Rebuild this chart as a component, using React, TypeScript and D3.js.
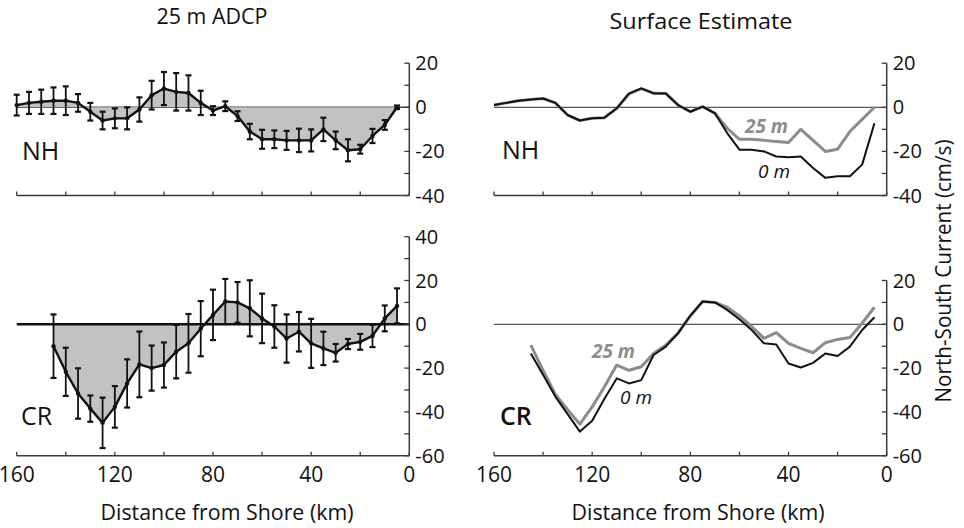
import React from "react";
import * as d3 from "d3";

// ---------- data ----------
const nhKm = [160, 155, 150, 145, 140, 135, 130, 125, 120, 115, 110, 105, 100, 95, 90, 85, 80, 75, 70, 65, 60, 55, 50, 45, 40, 35, 30, 25, 20, 15, 10, 5];
const nhAdcp = [1, 2, 2.5, 3, 3, 2, -2, -6, -5, -5, -1, 5.5, 8.5, 7, 6.5, 2, -1.5, 0.5, -4, -11, -14.5, -14.5, -15, -15, -15, -10, -15, -19.5, -19, -13, -8, 0];
const nhErr = [4.7, 5, 5.5, 6, 6.5, 4, 4, 4, 4.5, 5, 5.5, 6.5, 7.5, 8.5, 8, 5.5, 2, 2.2, 2.2, 3.5, 4.3, 4, 4.3, 5.3, 5, 5.3, 4, 5, 2, 3.2, 2.2, 0.8];
const nhSurf25 = [1, 2, 3, 3.5, 4, 2, -3.5, -6, -5, -4.7, -0.5, 6, 8.5, 6.5, 6.3, 1, -2, 0.3, -2.7, -9.5, -14.5, -14.5, -15, -15.5, -16, -10, -15, -20, -19, -11, -5.5, 0];
const nhSurf0 = [1, 2, 3, 3.5, 4, 2, -3.5, -6, -5, -4.7, -0.5, 6.3, 8.6, 6.3, 6.3, 1, -2, 0.3, -2.7, -11.7, -19.2, -19.2, -20, -22.3, -22.7, -22.3, -27.5, -32, -31.3, -31.3, -26, -7.2];

const crKm = [145, 140, 135, 130, 125, 120, 115, 110, 105, 100, 95, 90, 85, 80, 75, 70, 65, 60, 55, 50, 45, 40, 35, 30, 25, 20, 15, 10, 5];
const crAdcp = [-10, -21.7, -31.6, -38.5, -45, -37.7, -27, -18.3, -20, -18.6, -12.5, -8.7, -2, 4.3, 10.4, 10, 7.3, 2.7, -1, -6.5, -3.4, -8.7, -11, -13, -9, -8, -5.3, 2.7, 8.4];
const crErr = [14.5, 11, 11.5, 6, 11.5, 9.5, 11, 15, 10.3, 10.3, 12.2, 13.4, 12.6, 11.5, 10.3, 9.3, 12.8, 11.3, 9.7, 11, 9, 11.2, 7.6, 4, 2.3, 3.6, 5.1, 5.9, 8];
const crSurf25 = [-9.5, -21, -32, -39, -45.6, -37.7, -28.5, -18.6, -21, -19.4, -13.3, -9.5, -4, 3.8, 10.4, 10, 7.8, 3.8, -1, -6.4, -3.8, -8.7, -11, -13, -8.4, -6.9, -6, 0.5, 7.8];
const crSurf0 = [-13.3, -23, -33, -41, -49, -44, -34, -24.7, -27, -25.5, -14, -10.2, -4, 4, 10.4, 10, 6.6, 2.3, -2.6, -8.7, -9.2, -17.9, -19.7, -17.6, -13.3, -14.5, -10.2, -2.6, 3.2];

const xTicks = [160, 140, 120, 100, 80, 60, 40, 20, 0];
const xTickLabels = [160, 120, 80, 40, 0];
const topYTicks = [20, 10, 0, -10, -20, -30, -40];
const topYLabels = [20, 0, -20, -40];
const botLeftYTicks = [40, 30, 20, 10, 0, -10, -20, -30, -40, -50, -60];
const botLeftYLabels = [40, 20, 0, -20, -40, -60];
const botRightYTicks = [20, 10, 0, -10, -20, -30, -40, -50, -60];
const botRightYLabels = [20, 0, -20, -40, -60];

// ---------- scales ----------
const xL = d3.scaleLinear().domain([160, 0]).range([16.7, 409.3]);
const xR = d3.scaleLinear().domain([160, 0]).range([494, 886.7]);
const yTop = d3.scaleLinear().domain([-40, 20]).range([195.5, 63.2]);
const yBot = d3.scaleLinear().domain([-60, 40]).range([455.7, 236.7]);

const FONT = "'Open Sans', 'Noto Sans', sans-serif";
const AX = "#3a3a3a";

type Sc = d3.ScaleLinear<number, number>;

function Axes({ x, y, yTicks, yLabels, xLabels, yMin, yMax }: { x: Sc; y: Sc; yTicks: number[]; yLabels: number[]; xLabels: boolean; yMin: number; yMax: number }) {
  const y0 = y(yMin);
  const xa = x(0);
  return (
    <g>
      <line x1={x(160)} x2={x(0)} y1={y0} y2={y0} stroke={AX} strokeWidth={1.5} />
      {xTicks.map((t) => (
        <line key={"xt" + t} x1={x(t)} x2={x(t)} y1={y0} y2={y0 - 4} stroke={AX} strokeWidth={1.3} />
      ))}
      {xLabels &&
        xTickLabels.map((t) => (
          <text key={"xl" + t} x={x(t)} y={482} textAnchor="middle" fontSize={21} fontFamily={FONT} fill="#111">
            {t}
          </text>
        ))}
      <line x1={xa} x2={xa} y1={y(yMax)} y2={y0} stroke={AX} strokeWidth={1.5} />
      {yTicks.map((t) => (
        <line key={"yt" + t} x1={xa - 5} x2={xa} y1={y(t)} y2={y(t)} stroke={AX} strokeWidth={1.3} />
      ))}
      {yLabels.map((t) => (
        <text key={"yl" + t} x={xa + 6} y={y(t)} dy="0.35em" fontSize={20} fontFamily={FONT} fill="#111">
          {t}
        </text>
      ))}
    </g>
  );
}

function AdcpPanel({ x, y, km, vals, errs }: { x: Sc; y: Sc; km: number[]; vals: number[]; errs: number[] }) {
  const pts = km.map((k, i) => ({ k, v: vals[i], e: errs[i] }));
  const area = d3
    .area<{ k: number; v: number }>()
    .x((d) => x(d.k))
    .y0(y(0))
    .y1((d) => y(d.v));
  const line = d3
    .line<{ k: number; v: number }>()
    .x((d) => x(d.k))
    .y((d) => y(d.v));
  return (
    <g>
      <path d={area(pts) || ""} fill="#c2c2c2" stroke="none" />
      {pts.map((p, i) => {
        const cx = x(p.k);
        const t = y(p.v + p.e);
        const b = y(p.v - p.e);
        return (
          <g key={i} stroke="#111" strokeWidth={1.8}>
            <line x1={cx} x2={cx} y1={t} y2={b} />
            <line x1={cx - 3} x2={cx + 3} y1={t} y2={t} strokeWidth={2.2} />
            <line x1={cx - 3} x2={cx + 3} y1={b} y2={b} strokeWidth={2.2} />
          </g>
        );
      })}
      <path d={line(pts) || ""} fill="none" stroke="#111" strokeWidth={2.4} strokeLinejoin="round" />
      {pts.map((p, i) => (
        <circle key={"c" + i} cx={x(p.k)} cy={y(p.v)} r={2.2} fill="#111" />
      ))}
    </g>
  );
}

function SurfacePanel({ x, y, km, v25, v0 }: { x: Sc; y: Sc; km: number[]; v25: number[]; v0: number[] }) {
  const line = d3
    .line<number>()
    .x((_, i) => x(km[i]))
    .y((d) => y(d));
  return (
    <g>
      <line x1={x(160)} x2={x(0)} y1={y(0)} y2={y(0)} stroke="#555" strokeWidth={1.2} />
      <path d={line(v25) || ""} fill="none" stroke="#8c8c8c" strokeWidth={3} strokeLinejoin="round" />
      <path d={line(v0) || ""} fill="none" stroke="#111" strokeWidth={2} strokeLinejoin="round" />
    </g>
  );
}

export default function App() {
  return (
    <svg width={964} height={528} style={{ position: "absolute", left: 0, top: 0, background: "#fff" }}>
      <rect width={964} height={528} fill="#fff" />
      {/* titles */}
      <text x={212} y={24} textAnchor="middle" fontSize={21} fontFamily={FONT} fill="#111" textLength={111} lengthAdjust="spacingAndGlyphs">
        25 m ADCP
      </text>
      <text x={701} y={29} textAnchor="middle" fontSize={21} fontFamily={FONT} fill="#111" textLength={183} lengthAdjust="spacingAndGlyphs">
        Surface Estimate
      </text>

      {/* top-left NH ADCP */}
      <line x1={xL(160)} x2={xL(0)} y1={yTop(0)} y2={yTop(0)} stroke="#444" strokeWidth={1.5} />
      <AdcpPanel x={xL} y={yTop} km={nhKm} vals={nhAdcp} errs={nhErr} />
      <Axes x={xL} y={yTop} yTicks={topYTicks} yLabels={topYLabels} xLabels={false} yMin={-40} yMax={20} />
      <text x={22} y={160} fontSize={25} fontFamily={FONT} fill="#111">NH</text>

      {/* bottom-left CR ADCP */}
      <AdcpPanel x={xL} y={yBot} km={crKm} vals={crAdcp} errs={crErr} />
      <line x1={xL(160)} x2={xL(0)} y1={yBot(0)} y2={yBot(0)} stroke="#111" strokeWidth={2.6} />
      <Axes x={xL} y={yBot} yTicks={botLeftYTicks} yLabels={botLeftYLabels} xLabels={true} yMin={-60} yMax={40} />
      <text x={21} y={425} fontSize={25} fontFamily={FONT} fill="#111">CR</text>

      {/* top-right NH surface */}
      <SurfacePanel x={xR} y={yTop} km={nhKm} v25={nhSurf25} v0={nhSurf0} />
      <Axes x={xR} y={yTop} yTicks={topYTicks} yLabels={topYLabels} xLabels={false} yMin={-40} yMax={20} />
      <text x={502} y={159} fontSize={25} fontFamily={FONT} fill="#111">NH</text>
      <text x={745} y={133} fontSize={19} fontFamily={FONT} fontWeight="bold" fontStyle="italic" fill="#8c8c8c">25 m</text>
      <text x={758} y={178} fontSize={19} fontFamily={FONT} fontStyle="italic" fill="#111">0 m</text>

      {/* bottom-right CR surface */}
      <SurfacePanel x={xR} y={yBot} km={crKm} v25={crSurf25} v0={crSurf0} />
      <Axes x={xR} y={yBot} yTicks={botRightYTicks} yLabels={botRightYLabels} xLabels={true} yMin={-60} yMax={20} />
      <text x={500} y={425} fontSize={25} fontFamily={FONT} fontWeight={600} fill="#111">CR</text>
      <text x={592} y={358} fontSize={19} fontFamily={FONT} fontWeight="bold" fontStyle="italic" fill="#8c8c8c">25 m</text>
      <text x={620} y={404} fontSize={19} fontFamily={FONT} fontStyle="italic" fill="#111">0 m</text>

      {/* axis titles */}
      <text x={227} y={520} textAnchor="middle" fontSize={22} fontFamily={FONT} fill="#111" textLength={253} lengthAdjust="spacingAndGlyphs">
        Distance from Shore (km)
      </text>
      <text x={698} y={520} textAnchor="middle" fontSize={22} fontFamily={FONT} fill="#111" textLength={253} lengthAdjust="spacingAndGlyphs">
        Distance from Shore (km)
      </text>
      <text transform="translate(951,271) rotate(-90)" textAnchor="middle" fontSize={21} fontFamily={FONT} fill="#111" textLength={263} lengthAdjust="spacingAndGlyphs">
        North-South Current (cm/s)
      </text>
    </svg>
  );
}
